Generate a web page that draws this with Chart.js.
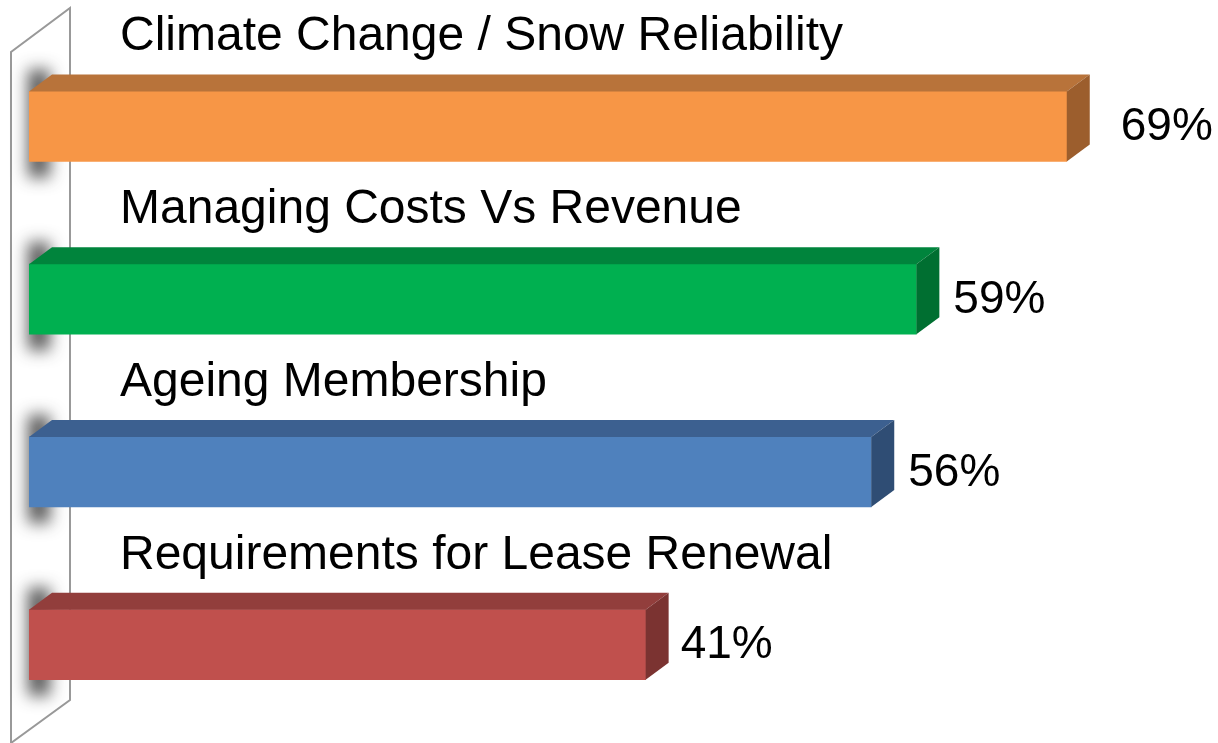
<!DOCTYPE html>
<html>
<head>
<meta charset="utf-8">
<script src="https://cdn.jsdelivr.net/npm/chart.js@4"></script>
<style>
  html, body { margin: 0; padding: 0; background: #fff; }
  #wrap { width: 1218px; height: 743px; position: relative; }
</style>
</head>
<body>
<div id="wrap"><canvas id="chart"></canvas></div>
<script>
// chart data
const categories = [
    'Climate Change / Snow Reliability',
    'Managing Costs Vs Revenue',
    'Ageing Membership',
    'Requirements for Lease Renewal'
];
const values = [69, 59, 56, 41];

// bar face colours (front, top, side)
const frontColors = ['#F79646', '#00B050', '#4F81BD', '#C0504D'];
const topColors = ['#B8733A', '#00843C', '#3C6090', '#923E3C'];
const sideColors = ['#9C5E2D', '#006F31', '#2F4D74', '#7B3331'];
// extra gap of the value label after the bar end
const labelGap = [31, 14, 14, 12];

const DX = 23, DY = -17;
const FONT = '"Liberation Sans", Arial, sans-serif';

// wall, shadows, 3D faces and labels
const bar3d = {
    id: 'bar3d',
    beforeDatasetsDraw(chart) {
        const ctx = chart.ctx;
        const meta = chart.getDatasetMeta(0);
        ctx.save();
        // back wall
        ctx.strokeStyle = '#999999';
        ctx.lineWidth = 2;
        ctx.beginPath();
        ctx.moveTo(11, 745);
        ctx.lineTo(11, 52);
        ctx.lineTo(70, 8);
        ctx.lineTo(70, 700);
        ctx.lineTo(11, 743);
        ctx.stroke();
        // soft shadows of bar ends on the wall (rect drawn off-canvas, shadow shifted in)
        ctx.fillStyle = '#000';
        ctx.shadowColor = 'rgba(60,60,60,0.85)';
        ctx.shadowBlur = 16;
        ctx.shadowOffsetX = 3000;
        meta.data.forEach(el => {
            const p = el.getProps(['y', 'height'], true);
            ctx.fillRect(28 - 3000, p.y - p.height / 2 - 22, 22, p.height + 38);
        });
        ctx.restore();
    },
    afterDatasetsDraw(chart) {
        const ctx = chart.ctx;
        const meta = chart.getDatasetMeta(0);
        ctx.save();
        meta.data.forEach((el, i) => {
            const p = el.getProps(['x', 'y', 'base', 'height'], true);
            const top = p.y - p.height / 2, bot = p.y + p.height / 2;
            const left = p.base, right = p.x;
            // top face
            ctx.fillStyle = topColors[i];
            ctx.beginPath();
            ctx.moveTo(left, top);
            ctx.lineTo(left + DX, top + DY);
            ctx.lineTo(right + DX, top + DY);
            ctx.lineTo(right, top);
            ctx.closePath();
            ctx.fill();
            // side face
            ctx.fillStyle = sideColors[i];
            ctx.beginPath();
            ctx.moveTo(right, top);
            ctx.lineTo(right + DX, top + DY);
            ctx.lineTo(right + DX, bot + DY);
            ctx.lineTo(right, bot);
            ctx.closePath();
            ctx.fill();
            // labels
            ctx.fillStyle = '#000';
            ctx.font = '48px ' + FONT;
            ctx.textAlign = 'left';
            ctx.textBaseline = 'alphabetic';
            ctx.fillText(categories[i], 120, top + DY - 24);
            ctx.font = '46px ' + FONT;
            ctx.textBaseline = 'middle';
            ctx.fillText(values[i] + '%', right + DX + labelGap[i], p.y + 1);
        });
        ctx.restore();
    }
};

new Chart(document.getElementById('chart'), {
    type: 'bar',
    data: {
        labels: categories,
        datasets: [{
            data: values,
            backgroundColor: frontColors,
            borderWidth: 0,
            barThickness: 70
        }]
    },
    options: {
        indexAxis: 'y',
        responsive: true,
        maintainAspectRatio: false,
        animation: false,
        layout: { padding: { left: 29, right: 61, top: 40, bottom: 12 } },
        scales: {
            x: { display: false, min: 0, max: 75 },
            y: { display: false }
        },
        plugins: {
            legend: { display: false },
            tooltip: { enabled: false }
        }
    },
    plugins: [bar3d]
});
</script>
</body>
</html>
